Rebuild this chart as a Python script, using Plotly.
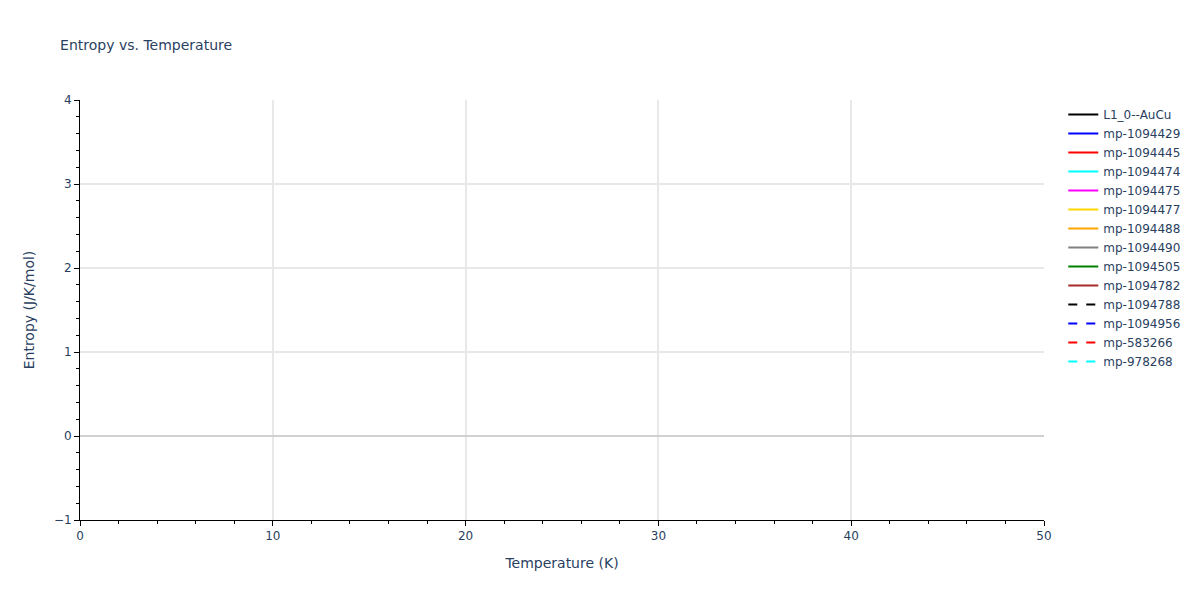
import plotly.graph_objects as go

# названия фаз и стили линий
names = ['L1_0--AuCu', 'mp-1094429', 'mp-1094445', 'mp-1094474', 'mp-1094475',
         'mp-1094477', 'mp-1094488', 'mp-1094490', 'mp-1094505', 'mp-1094782',
         'mp-1094788', 'mp-1094956', 'mp-583266', 'mp-978268']
colors = ['black', 'blue', 'red', 'cyan', 'magenta', 'gold', 'orange', 'gray',
          'green', 'brown', 'black', 'blue', 'red', 'cyan']
dashes = ['solid'] * 10 + ['dash'] * 4

# в видимом диапазоне данных нет (значения отсутствуют)
temperature = [None]
entropy = [None]

fig = go.Figure()
for name, color, dash in zip(names, colors, dashes):
    fig.add_trace(go.Scatter(
        x=temperature, y=entropy, mode='lines', name=name, showlegend=True,
        line=dict(color=color, dash=dash, width=2)
    ))

axis_style = dict(showline=True, linecolor='black', ticks='outside',
                  tickcolor='black', gridcolor='#e8e8e8', gridwidth=2)

fig.update_layout(
    title=dict(text='Entropy vs. Temperature', font=dict(size=14),
               x=0.044, y=0.937, yanchor='middle'),
    template='plotly_white',
    font=dict(family='Verdana, DejaVu Sans, sans-serif', size=12),
    # страница имеет отступ 8px, поэтому поля чуть меньше
    margin=dict(l=72, r=148, t=92, b=72, autoexpand=False),
    showlegend=True,
    xaxis=dict(title='Temperature (K)', range=[0, 50], dtick=10,
               minor=dict(dtick=2, ticks='outside', tickcolor='black'),
               **axis_style),
    yaxis=dict(title='Entropy (J/K/mol)', range=[-1, 4], dtick=1,
               zeroline=True, zerolinecolor='#d0d0d0', zerolinewidth=2,
               minor=dict(dtick=0.2, ticks='outside', tickcolor='black'),
               **axis_style),
)

fig.write_html("out.html")
